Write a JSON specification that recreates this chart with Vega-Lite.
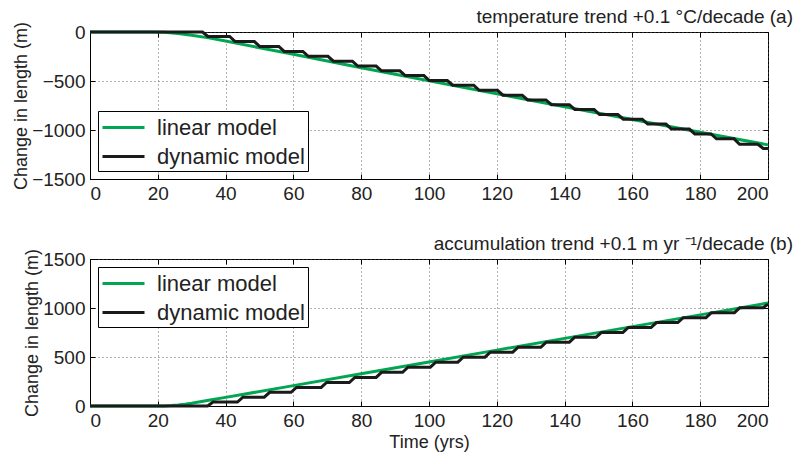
{
  "$schema": "https://vega.github.io/schema/vega-lite/v6.json",
  "autosize": {"type": "pad"},
  "padding": {"left": 12, "top": 7, "right": 0, "bottom": 0},
  "background": "white",
  "config": {
    "font": "Liberation Sans",
    "view": {"stroke": "black", "strokeWidth": 1},
    "axis": {
      "labelFontSize": 19, "labelColor": "#222", "labelFont": "Liberation Sans", "format": "d",
      "titleFontSize": 18, "titleFontWeight": "normal", "titleColor": "#222", "titleFont": "Liberation Sans",
      "domainColor": "black", "tickColor": "black", "tickSize": -5, "labelPadding": 10,
      "gridDash": [1, 3], "gridColor": "#555", "gridOpacity": 0.9
    },
    "legend": {
      "labelFontSize": 22, "labelFont": "Liberation Sans", "labelColor": "#222", "labelLimit": 300,
      "symbolType": "M-1.75,0H1.75", "symbolSize": 576, "symbolStrokeWidth": 3,
      "symbolOffset": 9, "labelOffset": 20, "padding": 3, "rowPadding": 4,
      "strokeColor": "black", "fillColor": "white", "offset": 8, "title": null
    },
    "title": {"fontSize": 19, "fontWeight": "normal", "color": "#222", "font": "Liberation Sans", "anchor": "end", "offset": -6, "dx": 19}
  },
  "datasets": {
    "a": [
      {"s": "linear model", "t": 0, "v": 0},
      {"s": "linear model", "t": 18, "v": 0},
      {"s": "linear model", "t": 22, "v": -3},
      {"s": "linear model", "t": 26, "v": -15},
      {"s": "linear model", "t": 30, "v": -33},
      {"s": "linear model", "t": 35, "v": -60},
      {"s": "linear model", "t": 40, "v": -92},
      {"s": "linear model", "t": 50, "v": -160},
      {"s": "linear model", "t": 60, "v": -228},
      {"s": "linear model", "t": 70, "v": -296},
      {"s": "linear model", "t": 80, "v": -364},
      {"s": "linear model", "t": 90, "v": -432},
      {"s": "linear model", "t": 100, "v": -498},
      {"s": "linear model", "t": 120, "v": -630},
      {"s": "linear model", "t": 140, "v": -762},
      {"s": "linear model", "t": 160, "v": -892},
      {"s": "linear model", "t": 180, "v": -1022},
      {"s": "linear model", "t": 200, "v": -1152},
      {"s": "dynamic model", "t": 0, "v": 0},
      {"s": "dynamic model", "t": 33.2, "v": 0},
      {"s": "dynamic model", "t": 34.8, "v": -45},
      {"s": "dynamic model", "t": 41.2, "v": -45},
      {"s": "dynamic model", "t": 42.8, "v": -98},
      {"s": "dynamic model", "t": 48.5, "v": -98},
      {"s": "dynamic model", "t": 50.1, "v": -148},
      {"s": "dynamic model", "t": 55.7, "v": -148},
      {"s": "dynamic model", "t": 57.3, "v": -198},
      {"s": "dynamic model", "t": 62.8, "v": -198},
      {"s": "dynamic model", "t": 64.4, "v": -248},
      {"s": "dynamic model", "t": 70.2, "v": -248},
      {"s": "dynamic model", "t": 71.8, "v": -298},
      {"s": "dynamic model", "t": 77.4, "v": -298},
      {"s": "dynamic model", "t": 79.0, "v": -347},
      {"s": "dynamic model", "t": 84.4, "v": -347},
      {"s": "dynamic model", "t": 86.0, "v": -396},
      {"s": "dynamic model", "t": 91.4, "v": -396},
      {"s": "dynamic model", "t": 93.0, "v": -445},
      {"s": "dynamic model", "t": 98.5, "v": -445},
      {"s": "dynamic model", "t": 100.1, "v": -495},
      {"s": "dynamic model", "t": 105.4, "v": -495},
      {"s": "dynamic model", "t": 107.0, "v": -543},
      {"s": "dynamic model", "t": 113.2, "v": -543},
      {"s": "dynamic model", "t": 114.8, "v": -595},
      {"s": "dynamic model", "t": 120.2, "v": -595},
      {"s": "dynamic model", "t": 121.8, "v": -645},
      {"s": "dynamic model", "t": 127.5, "v": -645},
      {"s": "dynamic model", "t": 129.1, "v": -693},
      {"s": "dynamic model", "t": 134.5, "v": -693},
      {"s": "dynamic model", "t": 136.1, "v": -742},
      {"s": "dynamic model", "t": 141.4, "v": -742},
      {"s": "dynamic model", "t": 143.0, "v": -790},
      {"s": "dynamic model", "t": 148.7, "v": -790},
      {"s": "dynamic model", "t": 150.3, "v": -842},
      {"s": "dynamic model", "t": 155.7, "v": -842},
      {"s": "dynamic model", "t": 157.3, "v": -890},
      {"s": "dynamic model", "t": 162.9, "v": -890},
      {"s": "dynamic model", "t": 164.5, "v": -940},
      {"s": "dynamic model", "t": 169.9, "v": -940},
      {"s": "dynamic model", "t": 171.5, "v": -990},
      {"s": "dynamic model", "t": 176.8, "v": -990},
      {"s": "dynamic model", "t": 178.4, "v": -1040},
      {"s": "dynamic model", "t": 183.2, "v": -1040},
      {"s": "dynamic model", "t": 184.8, "v": -1090},
      {"s": "dynamic model", "t": 190.0, "v": -1090},
      {"s": "dynamic model", "t": 191.6, "v": -1145},
      {"s": "dynamic model", "t": 197.0, "v": -1145},
      {"s": "dynamic model", "t": 198.6, "v": -1188},
      {"s": "dynamic model", "t": 200, "v": -1188}
    ],
    "b": [
      {"s": "linear model", "t": 0, "v": 0},
      {"s": "linear model", "t": 20, "v": 0},
      {"s": "linear model", "t": 22, "v": 1},
      {"s": "linear model", "t": 24, "v": 4},
      {"s": "linear model", "t": 26, "v": 10},
      {"s": "linear model", "t": 28, "v": 18},
      {"s": "linear model", "t": 30, "v": 28},
      {"s": "linear model", "t": 35, "v": 58},
      {"s": "linear model", "t": 40, "v": 88},
      {"s": "linear model", "t": 60, "v": 208},
      {"s": "linear model", "t": 80, "v": 330},
      {"s": "linear model", "t": 100, "v": 450},
      {"s": "linear model", "t": 120, "v": 570},
      {"s": "linear model", "t": 140, "v": 690},
      {"s": "linear model", "t": 160, "v": 810},
      {"s": "linear model", "t": 180, "v": 930},
      {"s": "linear model", "t": 200, "v": 1050},
      {"s": "dynamic model", "t": 0, "v": 0},
      {"s": "dynamic model", "t": 34.7, "v": 0},
      {"s": "dynamic model", "t": 36.3, "v": 40},
      {"s": "dynamic model", "t": 43.5, "v": 40},
      {"s": "dynamic model", "t": 45.1, "v": 90},
      {"s": "dynamic model", "t": 51.4, "v": 90},
      {"s": "dynamic model", "t": 53.0, "v": 140},
      {"s": "dynamic model", "t": 59.3, "v": 140},
      {"s": "dynamic model", "t": 60.9, "v": 190},
      {"s": "dynamic model", "t": 68.2, "v": 190},
      {"s": "dynamic model", "t": 69.8, "v": 240},
      {"s": "dynamic model", "t": 76.5, "v": 240},
      {"s": "dynamic model", "t": 78.1, "v": 292},
      {"s": "dynamic model", "t": 84.4, "v": 292},
      {"s": "dynamic model", "t": 86.0, "v": 344},
      {"s": "dynamic model", "t": 92.2, "v": 344},
      {"s": "dynamic model", "t": 93.8, "v": 396},
      {"s": "dynamic model", "t": 100.4, "v": 396},
      {"s": "dynamic model", "t": 102.0, "v": 447},
      {"s": "dynamic model", "t": 108.5, "v": 447},
      {"s": "dynamic model", "t": 110.1, "v": 498},
      {"s": "dynamic model", "t": 116.5, "v": 498},
      {"s": "dynamic model", "t": 118.1, "v": 549},
      {"s": "dynamic model", "t": 124.7, "v": 549},
      {"s": "dynamic model", "t": 126.3, "v": 600},
      {"s": "dynamic model", "t": 133.0, "v": 600},
      {"s": "dynamic model", "t": 134.6, "v": 651},
      {"s": "dynamic model", "t": 141.4, "v": 651},
      {"s": "dynamic model", "t": 143.0, "v": 702},
      {"s": "dynamic model", "t": 149.3, "v": 702},
      {"s": "dynamic model", "t": 150.9, "v": 751},
      {"s": "dynamic model", "t": 157.2, "v": 751},
      {"s": "dynamic model", "t": 158.8, "v": 801},
      {"s": "dynamic model", "t": 165.5, "v": 801},
      {"s": "dynamic model", "t": 167.1, "v": 851},
      {"s": "dynamic model", "t": 173.4, "v": 851},
      {"s": "dynamic model", "t": 175.0, "v": 901},
      {"s": "dynamic model", "t": 181.7, "v": 901},
      {"s": "dynamic model", "t": 183.3, "v": 952},
      {"s": "dynamic model", "t": 190.1, "v": 952},
      {"s": "dynamic model", "t": 191.7, "v": 1003},
      {"s": "dynamic model", "t": 198.6, "v": 1003},
      {"s": "dynamic model", "t": 200, "v": 1040}
    ]
  },
  "spacing": 30,
  "resolve": {"scale": {"color": "independent"}, "legend": {"color": "independent"}},
  "vconcat": [
    {
      "width": 678, "height": 147,
      "title": {"text": "temperature trend +0.1 °C/decade   (a)"},
      "data": {"name": "a"},
      "resolve": {"axis": {"x": "independent", "y": "independent"}},
      "layer": [
        {
          "mark": {"type": "line", "strokeWidth": 3, "strokeJoin": "miter"},
          "encoding": {
            "x": {"field": "t", "type": "quantitative", "scale": {"domain": [0, 200], "nice": false},
                  "axis": {"values": [0, 20, 40, 60, 80, 100, 120, 140, 160, 180, 200], "title": null, "grid": true}},
            "y": {"field": "v", "type": "quantitative", "scale": {"domain": [-1500, 0], "nice": false},
                  "axis": {"values": [-1500, -1000, -500, 0], "title": "Change in length (m)", "grid": true, "titlePadding": 1}},
            "color": {"field": "s", "type": "nominal",
                      "scale": {"domain": ["linear model", "dynamic model"], "range": ["#00a651", "#1a1a1a"]},
                      "legend": {"orient": "bottom-left"}}
          }
        },
        {
          "mark": {"type": "line", "opacity": 0},
          "encoding": {
            "x": {"field": "t", "type": "quantitative", "axis": {"orient": "top", "values": [0, 20, 40, 60, 80, 100, 120, 140, 160, 180, 200], "labels": false, "title": null, "grid": false, "domain": false, "labelPadding": 0, "minExtent": 0, "maxExtent": 0}},
            "y": {"field": "v", "type": "quantitative", "axis": {"orient": "right", "values": [-1500, -1000, -500, 0], "labels": false, "title": null, "grid": false, "domain": false, "labelPadding": 0, "minExtent": 0, "maxExtent": 0}}
          }
        }
      ]
    },
    {
      "width": 678, "height": 147,
      "title": {"text": "accumulation trend +0.1 m yr ⁻¹/decade  (b)"},
      "data": {"name": "b"},
      "resolve": {"axis": {"x": "independent", "y": "independent"}},
      "layer": [
        {
          "mark": {"type": "line", "strokeWidth": 3, "strokeJoin": "miter"},
          "encoding": {
            "x": {"field": "t", "type": "quantitative", "scale": {"domain": [0, 200], "nice": false},
                  "axis": {"values": [0, 20, 40, 60, 80, 100, 120, 140, 160, 180, 200], "title": "Time (yrs)", "grid": true, "titlePadding": 3}},
            "y": {"field": "v", "type": "quantitative", "scale": {"domain": [0, 1500], "nice": false},
                  "axis": {"values": [0, 500, 1000, 1500], "title": "Change in length (m)", "grid": true, "titlePadding": 1}},
            "color": {"field": "s", "type": "nominal",
                      "scale": {"domain": ["linear model", "dynamic model"], "range": ["#00a651", "#1a1a1a"]},
                      "legend": {"orient": "top-left"}}
          }
        },
        {
          "mark": {"type": "line", "opacity": 0},
          "encoding": {
            "x": {"field": "t", "type": "quantitative", "axis": {"orient": "top", "values": [0, 20, 40, 60, 80, 100, 120, 140, 160, 180, 200], "labels": false, "title": null, "grid": false, "domain": false, "labelPadding": 0, "minExtent": 0, "maxExtent": 0}},
            "y": {"field": "v", "type": "quantitative", "axis": {"orient": "right", "values": [0, 500, 1000, 1500], "labels": false, "title": null, "grid": false, "domain": false, "labelPadding": 0, "minExtent": 0, "maxExtent": 0}}
          }
        }
      ]
    }
  ]
}
